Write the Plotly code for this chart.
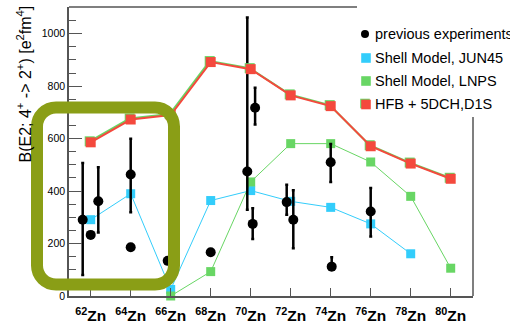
import plotly.graph_objects as go

# ---- data -------------------------------------------------------------
mass = [62, 64, 66, 68, 70, 72, 74, 76, 78, 80]
tick_labels = [f"<b><sup>{a}</sup>Zn</b>" for a in mass]

# HFB + 5DCH, D1S
hfb = [586, 673, 690, 892, 865, 765, 724, 571, 505, 447]
# Shell model, LNPS (66Zn .. 80Zn)
lnps_mass = [66, 68, 70, 72, 74, 76, 78, 80]
lnps = [0, 93, 435, 581, 581, 511, 380, 106]
# Shell model, JUN45 (62Zn .. 78Zn)
jun45_mass = [62, 64, 66, 68, 70, 72, 74, 76, 78]
jun45 = [291, 390, 25, 364, 402, 361, 338, 275, 161]

# previous experiments (slightly staggered around each isotope)
exp_mass = [61.6, 62.0, 62.38, 64.0, 64.0, 65.85, 68.0, 69.83, 70.1, 70.22,
            71.8, 72.13, 74.0, 74.05, 76.0]
exp_val = [291, 233, 361, 463, 186, 134, 167, 475, 275, 718,
           358, 291, 510, 112, 322]
exp_err_up = [216, 0, 130, 137, 0, 0, 0, 587, 60, 76, 66, 112, 70, 36, 90]
exp_err_dn = [211, 0, 119, 144, 0, 0, 0, 146, 58, 64, 48, 109, 75, 10, 95]

legend_labels = ["previous experiments", "Shell Model, JUN45",
                 "Shell Model, LNPS", "HFB + 5DCH,D1S"]

# ---- style ------------------------------------------------------------
FONT = "Liberation Sans, Arial, Helvetica, sans-serif"
RED = "#f4493d"
CYAN = "#33cdfb"
GREEN = "#68d664"
OLIVE = "#8a9e16"
AXIS = "#555555"

W, H = 510, 323
ML, MR, MT, MB = 69, 37, 7, 27
PW, PH = W - ML - MR, H - MT - MB

X_RANGE = [60.915, 81.115]
Y_RANGE = [0, 1102]


def px(x):
    return (x - ML) / PW


def py(y):
    return (MT + PH - y) / PH


fig = go.Figure()

fig.add_trace(go.Scatter(
    x=jun45_mass, y=jun45, mode="lines+markers", cliponaxis=False,
    line=dict(color=CYAN, width=1),
    marker=dict(symbol="square", size=9, color=CYAN),
    showlegend=False))

fig.add_trace(go.Scatter(
    x=lnps_mass, y=lnps, mode="lines+markers", cliponaxis=False,
    line=dict(color=GREEN, width=1),
    marker=dict(symbol="square", size=9, color=GREEN),
    showlegend=False))

fig.add_trace(go.Scatter(
    x=exp_mass, y=exp_val, mode="markers", cliponaxis=False,
    marker=dict(symbol="circle", size=10, color="black"),
    error_y=dict(type="data", symmetric=False, array=exp_err_up,
                 arrayminus=exp_err_dn, color="black", thickness=2.5,
                 width=1.5),
    showlegend=False))

# green rim under the HFB curve, offset by one pixel up-left
fig.add_trace(go.Scatter(
    x=mass, y=hfb, mode="lines+markers", xaxis="x2", yaxis="y2",
    cliponaxis=False,
    line=dict(color=GREEN, width=2),
    marker=dict(symbol="square", size=10, color=GREEN),
    showlegend=False))

# HFB curve on its own overlay (same ranges as the main axes) so it sits on top
fig.add_trace(go.Scatter(
    x=mass, y=hfb, mode="lines+markers", xaxis="x3", yaxis="y3",
    cliponaxis=False,
    line=dict(color=RED, width=2),
    marker=dict(symbol="square", size=10, color=RED),
    showlegend=False))

# ---- shapes -----------------------------------------------------------
shapes = []

# frame: top and right edges (left/bottom are axis lines)
shapes.append(dict(type="line", xref="paper", yref="paper",
                   x0=px(ML), x1=px(357), y0=py(MT), y1=py(MT),
                   line=dict(color=AXIS, width=1.5), layer="above"))
shapes.append(dict(type="line", xref="paper", yref="paper",
                   x0=px(ML + PW), x1=px(ML + PW), y0=py(117), y1=py(MT + PH),
                   line=dict(color=AXIS, width=1.5), layer="above"))


def rounded_rect(x0, y0, x1, y1, r):
    k = 0.5523 * r
    pts = [
        f"M{px(x0 + r)},{py(y0)}",
        f"L{px(x1 - r)},{py(y0)}",
        f"C{px(x1 - r + k)},{py(y0)} {px(x1)},{py(y0 + r - k)} {px(x1)},{py(y0 + r)}",
        f"L{px(x1)},{py(y1 - r)}",
        f"C{px(x1)},{py(y1 - r + k)} {px(x1 - r + k)},{py(y1)} {px(x1 - r)},{py(y1)}",
        f"L{px(x0 + r)},{py(y1)}",
        f"C{px(x0 + r - k)},{py(y1)} {px(x0)},{py(y1 - r + k)} {px(x0)},{py(y1 - r)}",
        f"L{px(x0)},{py(y0 + r)}",
        f"C{px(x0)},{py(y0 + r - k)} {px(x0 + r - k)},{py(y0)} {px(x0 + r)},{py(y0)}",
        "Z",
    ]
    return " ".join(pts)


shapes.append(dict(type="path", xref="paper", yref="paper",
                   path=rounded_rect(37, 107.5, 174, 284.5, 19),
                   line=dict(color=OLIVE, width=12), layer="above"))

# legend markers
leg_x = 366
leg_y = [34, 58, 81, 104.5]


def marker_shape(kind, xc, yc, half, color, dx=0, dy=0):
    return dict(type=kind, xref="paper", yref="paper",
                xsizemode="pixel", ysizemode="pixel",
                xanchor=px(xc), yanchor=py(yc),
                x0=-half + dx, x1=half + dx, y0=-half - dy, y1=half - dy,
                fillcolor=color, line=dict(width=0), layer="above")


shapes.append(marker_shape("circle", leg_x - 1, leg_y[0], 4, "black"))
shapes.append(marker_shape("rect", leg_x, leg_y[1], 4.8, CYAN))
shapes.append(marker_shape("rect", leg_x, leg_y[2], 4.8, GREEN))
shapes.append(marker_shape("rect", leg_x, leg_y[3], 4.8, GREEN, dx=-1, dy=-1))
shapes.append(marker_shape("rect", leg_x, leg_y[3], 4.8, RED))

annotations = []
for label, yy in zip(legend_labels, leg_y):
    annotations.append(dict(
        text=label, xref="paper", yref="paper", x=px(373), y=py(yy),
        xanchor="left", yanchor="middle", showarrow=False,
        font=dict(family=FONT, size=14.5, color="black")))

# y-axis title
annotations.append(dict(
    text="B(E2; 4<sup>+</sup> -> 2<sup>+</sup>) [e<sup>2</sup>fm<sup>4</sup>]",
    xref="paper", yref="paper", x=px(24), y=py(4),
    xanchor="center", yanchor="top", textangle=-90, showarrow=False,
    font=dict(family=FONT, size=16, color="black")))

fig.update_layout(
    width=W, height=H,
    margin=dict(l=ML, r=MR, t=MT, b=MB, pad=0, autoexpand=False),
    paper_bgcolor="white", plot_bgcolor="white",
    font=dict(family=FONT, color="black"),
    showlegend=False,
    shapes=shapes,
    annotations=annotations,
    xaxis=dict(
        range=X_RANGE, tickmode="array", tickvals=mass, ticktext=tick_labels,
        ticks="inside", ticklen=8, tickwidth=1.2, tickcolor=AXIS,
        ticklabelstandoff=5, automargin=False,
        showline=True, linecolor=AXIS, linewidth=1.5,
        showgrid=False, zeroline=False,
        tickfont=dict(family=FONT, size=15.5, color="black")),
    yaxis=dict(
        range=Y_RANGE, tick0=0, dtick=200, automargin=False,
        ticks="inside", ticklen=13, tickwidth=1.2, tickcolor=AXIS,
        minor=dict(ticks="inside", ticklen=7, dtick=50, tick0=0,
                   tickcolor=AXIS, tickwidth=1.2, showgrid=False),
        showline=True, linecolor=AXIS, linewidth=1.5,
        showgrid=False, zeroline=False,
        tickfont=dict(family=FONT, size=10.5, color="black")),
    xaxis2=dict(range=[X_RANGE[0] + 0.05, X_RANGE[1] + 0.05], overlaying="x",
                visible=False),
    yaxis2=dict(range=[Y_RANGE[0] - 3.8, Y_RANGE[1] - 3.8], overlaying="y",
                visible=False),
    xaxis3=dict(range=X_RANGE, overlaying="x", visible=False),
    yaxis3=dict(range=Y_RANGE, overlaying="y", visible=False),
)

fig.write_html("out.html")
